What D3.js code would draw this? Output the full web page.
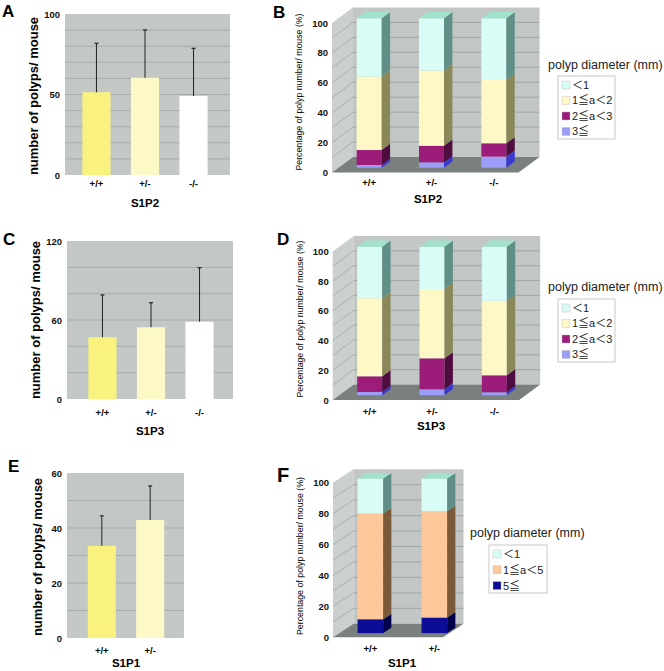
<!DOCTYPE html>
<html><head><meta charset="utf-8">
<script src="https://cdn.jsdelivr.net/npm/d3@7"></script>
<style>body{margin:0;background:#fff} svg{display:block}</style>
</head><body>
<script>
// ---------------- data ----------------
const genotypes3 = ["+/+", "+/-", "-/-"];
const genotypes2 = ["+/+", "+/-"];
const genotypeColors = ["#f9f27e", "#fdf9c6", "#ffffff"];

// A: S1P2 polyp numbers (mean, SD)
const meanA = [51.4, 60.4, 49.1];
const sdA = [30.4, 29.7, 29.6];
const ticksA = [0, 50, 100];
// C: S1P3
const meanC = [46.9, 54.5, 58.7];
const sdC = [32.1, 18.6, 41.0];
const ticksC = [0, 60, 120];
// E: S1P1
const meanE = [33.5, 42.9];
const sdE = [10.9, 12.4];
const ticksE = [0, 20, 40, 60];

// polyp diameter classes (legend order, top to bottom)
const classes4 = ["＜1", "1≦a＜2", "2≦a＜3", "3≦"];
const classes3 = ["＜1", "1≦a＜5", "5≦"];
const pctTicks = [0, 20, 40, 60, 80, 100];

// B: S1P2 percentages per class
const B_lt1 = [39.0, 35.0, 41.3];
const B_1to2 = [49.2, 50.3, 42.4];
const B_2to3 = [10.0, 11.1, 8.9];
const B_ge3 = [1.8, 3.6, 7.4];
// D: S1P3
const D_lt1 = [34.8, 28.5, 36.4];
const D_1to2 = [52.5, 46.7, 50.2];
const D_2to3 = [10.5, 20.8, 11.4];
const D_ge3 = [2.2, 4.0, 2.0];
// F: S1P1
const F_lt1 = [22.6, 21.1];
const F_1to5 = [68.4, 68.8];
const F_ge5 = [9.0, 10.1];

// colours: [front, side, top]
const col4 = {
  "＜1": ["#d9fcf6", "#5f8f87", "#a0e2cb"],
  "1≦a＜2": ["#fdf8c6", "#8a8858", "#d8d49a"],
  "2≦a＜3": ["#9c1d79", "#4f0c3f", "#7a1560"],
  "3≦": ["#9b9df6", "#3a3ad0", "#7070e0"]
};
const col3 = {
  "＜1": ["#d9fcf6", "#5f8f87", "#a0e2cb"],
  "1≦a＜5": ["#fdc99b", "#7c5a37", "#d9a878"],
  "5≦": ["#0c0c96", "#00004a", "#00006a"]
};

// ---------------- drawing ----------------
const FONT = "'Liberation Sans', Arial, 'Noto Sans CJK JP', sans-serif";
const svg = d3.select("body").append("svg").attr("width", 664).attr("height", 671)
  .style("font-family", FONT);

function panelLetter(t, x, y, size) {
  svg.append("text").attr("x", x).attr("y", y).text(t)
    .attr("font-size", size).attr("font-weight", "bold").attr("fill", "#000");
}

function bar2D(c) {
  const g = svg.append("g");
  const y = d3.scaleLinear().domain([0, c.max]).range([c.bottom, c.top]);
  const x = d3.scaleBand().domain(c.cats).range(c.barRange).paddingInner(0.42).paddingOuter(0.42);
  g.append("rect").attr("x", c.left).attr("y", c.top).attr("width", c.right - c.left)
    .attr("height", c.bottom - c.top).attr("fill", "#c3c8c6");
  g.selectAll("line.grid").data(d3.range(c.gridStep, c.max, c.gridStep)).join("line")
    .attr("x1", c.left).attr("x2", c.right).attr("y1", d => y(d)).attr("y2", d => y(d))
    .attr("stroke", "#a6acaa").attr("stroke-width", 1);
  const axis = d3.axisLeft(y).tickValues(c.ticks).tickSize(0).tickPadding(5);
  const ag = g.append("g").attr("transform", `translate(${c.left},0)`).call(axis);
  ag.select(".domain").remove();
  ag.selectAll("text").attr("font-size", 9.5).attr("font-weight", "bold").attr("fill", "#111")
    .style("font-family", FONT);
  g.selectAll("rect.bar").data(c.means).join("rect")
    .attr("x", (d, i) => x(c.cats[i])).attr("width", x.bandwidth())
    .attr("y", d => y(d)).attr("height", d => y(0) - y(d))
    .attr("fill", (d, i) => c.colors[i]);
  c.means.forEach((m, i) => {
    const cx = x(c.cats[i]) + x.bandwidth() / 2;
    g.append("line").attr("x1", cx).attr("x2", cx).attr("y1", y(m)).attr("y2", y(m + c.sds[i]))
      .attr("stroke", "#222").attr("stroke-width", 1);
    g.append("line").attr("x1", cx - 2).attr("x2", cx + 2).attr("y1", y(m + c.sds[i])).attr("y2", y(m + c.sds[i]))
      .attr("stroke", "#222").attr("stroke-width", 1.2);
    g.append("text").attr("x", cx).attr("y", c.catY).attr("text-anchor", "middle")
      .attr("font-size", 9.5).attr("font-weight", "bold").text(c.cats[i]);
  });
  g.append("text").attr("x", c.xTitleX).attr("y", c.xTitleY).attr("text-anchor", "middle")
    .attr("font-size", 11.5).attr("font-weight", "bold").text(c.xTitle);
  g.append("text").attr("transform", `translate(${c.yTitleX},${c.yTitleY}) rotate(-90)`)
    .attr("text-anchor", "middle").attr("dy", "0.35em")
    .attr("font-size", 13).attr("font-weight", "bold").text("number of polyps/ mouse");
}

function bar3D(c) {
  const g = svg.append("g");
  const y = d3.scaleLinear().domain([0, 100]).range([c.y0, c.y100]);
  const x = d3.scaleBand().domain(c.cats).range(c.band);
  const P = (xx, v, t) => [xx + t * c.dx, y(v) + t * c.dy];
  const poly = (pts, fill) => g.append("polygon").attr("points", pts.map(p => p.join(",")).join(" ")).attr("fill", fill);
  const x0 = c.x0, x1 = c.x0 + c.floorW;
  // walls & floor
  poly([P(x0, 100, 0), P(x0, 100, 1), P(x0, 0, 1), P(x0, 0, 0)], "#cbcfcd");
  poly([P(x0, 100, 1), P(x1, 100, 1), P(x1, 0, 1), P(x0, 0, 1)], "#c2c7c5");
  poly([P(x0, 0, 0), P(x1, 0, 0), P(x1, 0, 1), P(x0, 0, 1)], "#7a807e");
  const gv = d3.range(10, 100, 10);
  g.selectAll("line.bg").data(gv).join("line")
    .attr("x1", P(x0, 0, 1)[0]).attr("x2", P(x1, 0, 1)[0])
    .attr("y1", d => P(x0, d, 1)[1]).attr("y2", d => P(x0, d, 1)[1])
    .attr("stroke", "#989e9c").attr("stroke-width", 0.8);
  g.selectAll("line.lg").data(gv).join("line")
    .attr("x1", P(x0, 0, 0)[0]).attr("x2", P(x0, 0, 1)[0])
    .attr("y1", d => P(x0, d, 0)[1]).attr("y2", d => P(x0, d, 1)[1])
    .attr("stroke", "#a2a8a6").attr("stroke-width", 0.8);
  // axis labels
  const axis = d3.axisLeft(y).tickValues(pctTicks).tickSize(0).tickPadding(4);
  const ag = g.append("g").attr("transform", `translate(${x0},0)`).call(axis);
  ag.select(".domain").remove();
  ag.selectAll("text").attr("font-size", 9.5).attr("font-weight", "bold").attr("fill", "#111")
    .style("font-family", FONT);
  // stacked bars
  const rows = c.cats.map((cat, i) => {
    const r = { cat };
    c.keys.forEach(k => r[k] = c.series[k][i]);
    return r;
  });
  const stack = d3.stack().keys(c.keys)(rows);
  c.cats.forEach((cat, i) => {
    const xf = x(cat) + x.bandwidth() / 2 - c.barW / 2;
    const xr = xf + c.barW;
    stack.forEach((layer, li) => {
      const [v0, v1] = layer[i];
      const cl = c.colors[layer.key];
      poly([P(xf, v1, c.f1), P(xr, v1, c.f1), P(xr, v0, c.f1), P(xf, v0, c.f1)], cl[0]);
      poly([P(xr, v1, c.f1), P(xr, v1, c.f2), P(xr, v0, c.f2), P(xr, v0, c.f1)], cl[1]);
      if (li === stack.length - 1) {
        poly([P(xf, v1, c.f1), P(xr, v1, c.f1), P(xr, v1, c.f2), P(xf, v1, c.f2)], cl[2]);
      }
    });
    const lx = x(cat) + x.bandwidth() / 2 + c.f1 * c.dx;
    g.append("text").attr("x", lx).attr("y", c.catY).attr("text-anchor", "middle")
      .attr("font-size", 9.5).attr("font-weight", "bold").text(cat);
  });
  g.append("text").attr("x", c.xTitleX).attr("y", c.xTitleY).attr("text-anchor", "middle")
    .attr("font-size", 11.5).attr("font-weight", "bold").text(c.xTitle);
  g.append("text").attr("transform", `translate(${c.yTitleX},${c.yTitleY}) rotate(-90)`)
    .attr("text-anchor", "middle").attr("dy", "0.35em")
    .attr("font-size", 9).attr("textLength", c.yTitleLen).attr("lengthAdjust", "spacingAndGlyphs")
    .text("Percentage of polyp number/ mouse (%)");
  // legend
  const L = c.legend;
  g.append("text").attr("x", L.titleX).attr("y", L.titleY).attr("font-size", 12.5)
    .attr("fill", "#222").text("polyp diameter (mm)");
  g.append("rect").attr("x", L.boxX).attr("y", L.boxY).attr("width", L.boxW).attr("height", L.boxH)
    .attr("fill", "#fff").attr("stroke", "#c8c8c8").attr("stroke-width", 1);
  c.legendOrder.forEach((k, i) => {
    const yy = L.itemY0 + i * L.step;
    g.append("rect").attr("x", L.swX).attr("y", yy - 4).attr("width", 8).attr("height", 8)
      .attr("fill", c.colors[k][0]).attr("stroke", "#bbb").attr("stroke-width", 0.4);
    g.append("text").attr("x", L.swX + 10).attr("y", yy).attr("dy", "0.36em")
      .attr("font-size", 11).attr("fill", "#222").text(k);
  });
}

// ---- Panel A ----
panelLetter("A", 2, 17, 17);
bar2D({ cats: genotypes3, means: meanA, sds: sdA, colors: genotypeColors, max: 100, ticks: ticksA, gridStep: 10,
  left: 65, right: 230, top: 14, bottom: 175, barRange: [62, 228], catY: 187, xTitle: "S1P2", xTitleX: 145, xTitleY: 207,
  yTitleX: 33, yTitleY: 96 });
// ---- Panel C ----
panelLetter("C", 3, 245, 17);
bar2D({ cats: genotypes3, means: meanC, sds: sdC, colors: genotypeColors, max: 120, ticks: ticksC, gridStep: 20,
  left: 67, right: 233, top: 241, bottom: 399, barRange: [68, 234], catY: 416, xTitle: "S1P3", xTitleX: 150, xTitleY: 435,
  yTitleX: 35, yTitleY: 320 });
// ---- Panel E ----
panelLetter("E", 8, 472, 17);
bar2D({ cats: genotypes2, means: meanE, sds: sdE, colors: genotypeColors, max: 60, ticks: ticksE, gridStep: 10,
  left: 67, right: 184, top: 473, bottom: 638, barRange: [67.5, 184.5], catY: 654, xTitle: "S1P1", xTitleX: 126, xTitleY: 667,
  yTitleX: 37, yTitleY: 557 });

// ---- Panel B ----
panelLetter("B", 273, 18, 17);
bar3D({ cats: genotypes3, keys: ["3≦", "2≦a＜3", "1≦a＜2", "＜1"],
  series: { "＜1": B_lt1, "1≦a＜2": B_1to2, "2≦a＜3": B_2to3, "3≦": B_ge3 }, colors: col4, legendOrder: classes4,
  x0: 332, floorW: 186.5, y0: 172.5, y100: 23, dx: 21, dy: -15.5, f1: 0.31, f2: 0.71, barW: 25, band: [331.5, 518.5],
  catY: 186, xTitle: "S1P2", xTitleX: 428, xTitleY: 203, yTitleX: 299, yTitleY: 92, yTitleLen: 157,
  legend: { titleX: 548, titleY: 69, boxX: 558, boxY: 76, boxW: 57, boxH: 63, swX: 562, itemY0: 85, step: 15.5 } });
// ---- Panel D ----
panelLetter("D", 277, 245, 17);
bar3D({ cats: genotypes3, keys: ["3≦", "2≦a＜3", "1≦a＜2", "＜1"],
  series: { "＜1": D_lt1, "1≦a＜2": D_1to2, "2≦a＜3": D_2to3, "3≦": D_ge3 }, colors: col4, legendOrder: classes4,
  x0: 332.7, floorW: 186.5, y0: 400, y100: 251.5, dx: 21, dy: -15.5, f1: 0.31, f2: 0.71, barW: 25, band: [332, 519],
  catY: 415, xTitle: "S1P3", xTitleX: 431, xTitleY: 430, yTitleX: 300, yTitleY: 319, yTitleLen: 157,
  legend: { titleX: 548, titleY: 291, boxX: 558, boxY: 299, boxW: 57, boxH: 63, swX: 562, itemY0: 308, step: 15.5 } });
// ---- Panel F ----
panelLetter("F", 277, 482, 20);
bar3D({ cats: genotypes2, keys: ["5≦", "1≦a＜5", "＜1"],
  series: { "＜1": F_lt1, "1≦a＜5": F_1to5, "5≦": F_ge5 }, colors: col3, legendOrder: classes3,
  x0: 333, floorW: 110, y0: 637.3, y100: 482.7, dx: 20.5, dy: -13.5, f1: 0.31, f2: 0.71, barW: 25.6, band: [332, 460],
  catY: 652, xTitle: "S1P1", xTitleX: 402, xTitleY: 667, yTitleX: 300, yTitleY: 556, yTitleLen: 158,
  legend: { titleX: 470, titleY: 537, boxX: 489, boxY: 545, boxW: 58, boxH: 48, swX: 493, itemY0: 554, step: 15.8 } });
</script>
</body></html>
